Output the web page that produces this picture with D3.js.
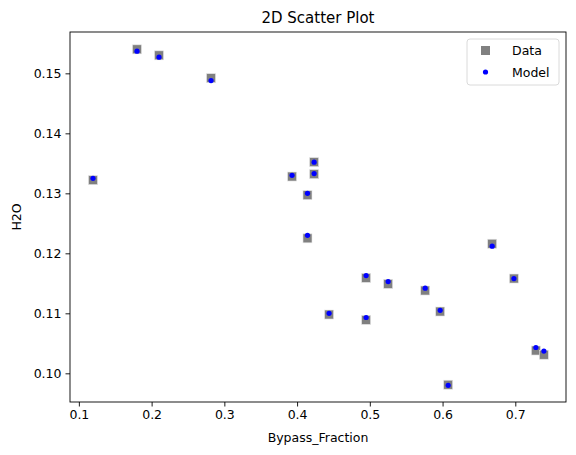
<!DOCTYPE html>
<html>
<head>
<meta charset="utf-8">
<script src="https://cdn.jsdelivr.net/npm/d3@7"></script>
<style>
  body { margin: 0; background: #fff; }
  svg { font-family: "DejaVu Sans", sans-serif; }
</style>
</head>
<body>
<svg id="chart" width="576" height="455"></svg>
<script>
// data
var bypass   = [0.1194, 0.1799, 0.2102, 0.2817, 0.4234, 0.4234, 0.3931, 0.4143, 0.4143, 0.6682,
                0.6981, 0.4949, 0.5252, 0.5761, 0.5967, 0.4440, 0.4949, 0.7283, 0.7393, 0.6077];
var h2oData  = [0.1322, 0.1540, 0.1530, 0.1492, 0.1352, 0.1332, 0.1328, 0.1297, 0.1225, 0.1216,
                0.1158, 0.1159, 0.1149, 0.1138, 0.1103, 0.1098, 0.1089, 0.1038, 0.1031, 0.0981];
var h2oModel = [0.1325, 0.1537, 0.1527, 0.1488, 0.1352, 0.1333, 0.1330, 0.1300, 0.1230, 0.1212,
                0.1158, 0.1163, 0.1153, 0.1142, 0.1105, 0.1100, 0.1093, 0.1043, 0.1037, 0.0980];
var xTicks = [0.1, 0.2, 0.3, 0.4, 0.5, 0.6, 0.7];
var yTicks = [0.10, 0.11, 0.12, 0.13, 0.14, 0.15];

var margin = { top: 32, right: 10, bottom: 53, left: 70 };
var width = 576 - margin.left - margin.right,
    height = 455 - margin.top - margin.bottom;

var svg = d3.select("#chart").append("g")
  .attr("transform", "translate(" + margin.left + "," + margin.top + ")");

var x = d3.scaleLinear().domain([0.0878, 0.7697]).range([0, width]);
var y = d3.scaleLinear().domain([0.09522, 0.15689]).range([height, 0]);

// axes
var xAxis = svg.append("g")
  .attr("transform", "translate(0," + height + ")")
  .call(d3.axisBottom(x).tickValues(xTicks).tickFormat(d3.format(".1f")).tickSizeOuter(0).tickSize(4.5).tickPadding(4));
var yAxis = svg.append("g")
  .call(d3.axisLeft(y).tickValues(yTicks).tickFormat(d3.format(".2f")).tickSizeOuter(0).tickSize(4.5).tickPadding(4));

[xAxis, yAxis].forEach(function (a) {
  a.select(".domain").remove();
  a.selectAll("text").style("font-size", "12.5px").style("font-family", "DejaVu Sans").attr("fill", "#000");
  a.selectAll("line").attr("stroke", "#000").attr("stroke-width", 0.9);
});

// frame
svg.append("rect")
  .attr("width", width).attr("height", height)
  .attr("fill", "none").attr("stroke", "#000").attr("stroke-width", 0.9);

// data squares
var sq = 9;
svg.append("g").selectAll("rect").data(bypass).enter().append("rect")
  .attr("x", function (d) { return x(d) - sq / 2; })
  .attr("y", function (d, i) { return y(h2oData[i]) - sq / 2; })
  .attr("width", sq).attr("height", sq)
  .attr("fill", "#808080")
  .attr("stroke", "#e6e6e6").attr("stroke-width", 0.6);

// model dots
svg.append("g").selectAll("circle").data(bypass).enter().append("circle")
  .attr("cx", function (d) { return x(d); })
  .attr("cy", function (d, i) { return y(h2oModel[i]); })
  .attr("r", 2.6)
  .attr("fill", "#0000ff");

// title and labels
svg.append("text")
  .attr("x", width / 2).attr("y", -9)
  .attr("text-anchor", "middle")
  .style("font-size", "15px")
  .text("2D Scatter Plot");

svg.append("text")
  .attr("x", width / 2).attr("y", height + 40)
  .attr("text-anchor", "middle")
  .style("font-size", "12.5px")
  .text("Bypass_Fraction");

svg.append("text")
  .attr("transform", "translate(" + (-49) + "," + (height / 2) + ") rotate(-90)")
  .attr("text-anchor", "middle")
  .style("font-size", "12.5px")
  .text("H2O");

// legend
var lg = svg.append("g").attr("transform", "translate(" + (width - 99) + ",7)");
lg.append("rect")
  .attr("width", 92).attr("height", 46).attr("rx", 3)
  .attr("fill", "#fff").attr("fill-opacity", 0.8)
  .attr("stroke", "#d6d6d6").attr("stroke-width", 0.9);
lg.append("rect")
  .attr("x", 14).attr("y", 7).attr("width", 9).attr("height", 9)
  .attr("fill", "#808080");
lg.append("circle")
  .attr("cx", 18.5).attr("cy", 33).attr("r", 2.6)
  .attr("fill", "#0000ff");
lg.append("text").attr("x", 45).attr("y", 16).style("font-size", "12.5px").text("Data");
lg.append("text").attr("x", 45).attr("y", 38).style("font-size", "12.5px").text("Model");
</script>
</body>
</html>
